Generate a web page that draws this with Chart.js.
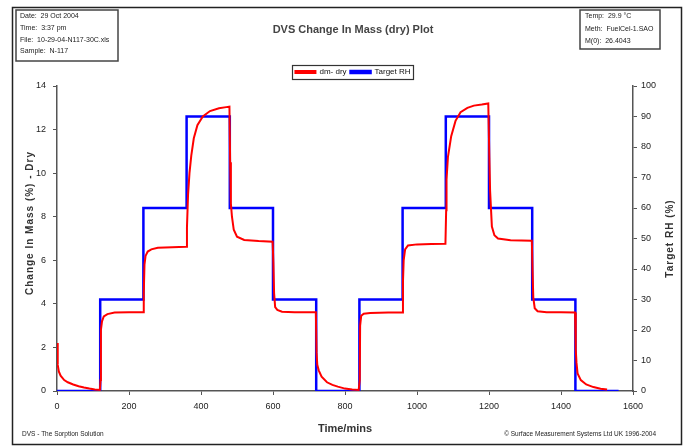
<!DOCTYPE html>
<html>
<head>
<meta charset="utf-8">
<script src="https://cdn.jsdelivr.net/npm/chart.js@4.4.1/dist/chart.umd.min.js"></script>
<style>
  html, body { margin: 0; padding: 0; background: #fff; }
  #wrap { width: 686px; height: 447px; }
</style>
</head>
<body>
<div id="wrap"><canvas id="chart"></canvas></div>
<script>
// Target RH steps (value holds until the next time)
const rhTimes = [0, 120, 240, 360, 480, 600, 720, 840, 960, 1080, 1200, 1320, 1440, 1560];
const rhValues = [0, 30, 60, 90, 60, 30, 0, 30, 60, 90, 60, 30, 0, 0];

// dm - dry
const dmTimes = [
  0, 2, 5, 10, 20, 30, 45, 60, 75, 90, 105, 119,
  121, 122, 125, 130, 140, 160, 200, 239,
  241, 243, 246, 252, 262, 280, 320, 359,
  361, 364, 368, 373, 380, 390, 405, 425, 450, 470, 479,
  481, 483, 486, 491, 500, 520, 560, 599,
  601, 603, 606, 612, 625, 660, 719,
  721, 723, 727, 735, 750, 765, 780, 800, 820, 838,
  841, 842, 845, 852, 870, 920, 959,
  961, 963, 967, 975, 1000, 1040, 1079,
  1081, 1082, 1086, 1095, 1107, 1121, 1140, 1158, 1180, 1198,
  1201, 1203, 1208, 1215, 1225, 1260, 1319,
  1321, 1323, 1327, 1335, 1360, 1400, 1439,
  1441, 1443, 1446, 1455, 1470, 1490, 1510, 1528
];
const dmValues = [
  2.2, 1.2, 0.9, 0.7, 0.5, 0.4, 0.3, 0.22, 0.16, 0.11, 0.07, 0.05,
  0.5, 2.8, 3.2, 3.42, 3.53, 3.6, 3.61, 3.62,
  4.5, 5.8, 6.2, 6.4, 6.5, 6.57, 6.6, 6.62,
  7.5, 9.0, 10.0, 10.8, 11.6, 12.2, 12.6, 12.85, 12.98, 13.03, 13.05,
  10.5, 8.6, 8.0, 7.4, 7.08, 6.93, 6.88, 6.85,
  5.9, 4.5, 3.85, 3.72, 3.64, 3.62, 3.61,
  1.75, 1.2, 0.95, 0.66, 0.4, 0.28, 0.2, 0.11, 0.07, 0.05,
  0.5, 3.0, 3.45, 3.55, 3.58, 3.6, 3.6,
  5.0, 6.0, 6.5, 6.68, 6.73, 6.75, 6.76,
  8.3, 9.7, 10.75, 11.7, 12.4, 12.8, 13.0, 13.1, 13.15, 13.2,
  10.7, 9.2, 7.55, 7.15, 7.0, 6.92, 6.9,
  5.5, 4.3, 3.8, 3.66, 3.62, 3.62, 3.6,
  1.9, 1.3, 0.81, 0.5, 0.3, 0.18, 0.1, 0.07
];

const massTicks = [0, 2, 4, 6, 8, 10, 12, 14];
const rhTicks = [0, 10, 20, 30, 40, 50, 60, 70, 80, 90, 100];

const infoLeft = ['Date:  29 Oct 2004', 'Time:  3:37 pm', 'File:  10-29-04-N117-30C.xls', 'Sample:  N-117'];
const infoRight = ['Temp:  29.9 °C', 'Meth:  FuelCel-1.SAO', 'M(0):  26.4043'];

const FONT = "'Liberation Sans', Arial, sans-serif";
const AXIS = '#555';

// frame, info boxes, rotated axis titles and footer notes
const decor = {
  id: 'decor',
  afterDraw(chart) {
    const ctx = chart.ctx;
    const area = chart.chartArea;
    ctx.save();

    ctx.strokeStyle = '#222';
    ctx.lineWidth = 1.5;
    ctx.strokeRect(12.5, 7.5, 669, 437);

    // legend frame
    const boxes = chart.legend.legendHitBoxes;
    if (boxes.length) {
      const l = Math.min(...boxes.map(b => b.left)) - 3;
      const r = Math.max(...boxes.map(b => b.left + b.width)) + 3;
      const t = boxes[0].top - 3;
      const h = boxes[0].height + 6;
      ctx.lineWidth = 1.2;
      ctx.strokeStyle = '#333';
      ctx.strokeRect(Math.round(l) + 0.5, Math.round(t) + 0.5, Math.round(r - l), Math.round(h));
    }

    ctx.fillStyle = '#222';
    ctx.font = '7px ' + FONT;
    ctx.textBaseline = 'middle';
    ctx.textAlign = 'left';

    ctx.lineWidth = 1.5;
    ctx.strokeStyle = '#444';
    ctx.strokeRect(16, 10, 102, 51);
    [16, 28, 40, 51].forEach((y, i) => ctx.fillText(infoLeft[i], 20, y));

    ctx.strokeRect(580, 10, 80, 39);
    [16, 29, 41].forEach((y, i) => ctx.fillText(infoRight[i], 585, y));

    ctx.font = '6.5px ' + FONT;
    ctx.fillText('DVS - The Sorption Solution', 22, 434);
    ctx.textAlign = 'right';
    ctx.fillText('© Surface Measurement Systems Ltd UK 1996-2004', 656, 434);

    ctx.fillStyle = '#333';
    ctx.font = 'bold 10px ' + FONT;
    ctx.textAlign = 'center';
    ctx.save();
    ctx.translate(30, 223);
    ctx.rotate(-Math.PI / 2);
    ctx.letterSpacing = '1px';
    ctx.fillText('Change In Mass (%) - Dry', 0, 0);
    ctx.restore();

    ctx.save();
    ctx.translate(670, (area.top + area.bottom) / 2);
    ctx.rotate(-Math.PI / 2);
    ctx.letterSpacing = '1px';
    ctx.fillText('Target RH (%)', 0, 0);
    ctx.restore();

    ctx.restore();
  }
};

new Chart(document.getElementById('chart'), {
  type: 'line',
  data: {
    datasets: [
      {
        label: 'dm- dry',
        data: dmTimes.map((t, i) => ({ x: t, y: dmValues[i] })),
        yAxisID: 'y',
        borderColor: '#ff0000',
        backgroundColor: '#ff0000',
        borderWidth: 2,
        pointRadius: 0,
        tension: 0
      },
      {
        label: 'Target RH',
        data: rhTimes.map((t, i) => ({ x: t, y: rhValues[i] })),
        yAxisID: 'y1',
        stepped: 'before',
        borderColor: '#0000ff',
        backgroundColor: '#0000ff',
        borderWidth: 2.5,
        pointRadius: 0
      }
    ]
  },
  plugins: [decor],
  options: {
    responsive: true,
    maintainAspectRatio: false,
    animation: false,
    layout: { padding: { top: 10, left: 20, right: 0, bottom: 7 } },
    plugins: {
      title: {
        display: true,
        text: 'DVS Change In Mass (dry) Plot',
        color: '#444',
        font: { family: FONT, size: 11, weight: 'bold' },
        padding: { top: 13.4, bottom: 27.4 }
      },
      legend: {
        display: true,
        labels: {
          color: '#111',
          font: { family: FONT, size: 8 },
          boxWidth: 20,
          boxHeight: 2,
          padding: 4
        }
      },
      tooltip: { enabled: false }
    },
    scales: {
      x: {
        type: 'linear',
        min: 0,
        max: 1600,
        afterFit: (s) => { s.height = 49; },
        ticks: {
          stepSize: 200,
          color: '#222',
          padding: 6,
          maxRotation: 0,
          font: { family: FONT, size: 9 },
          callback: (v) => String(v)
        },
        grid: { drawOnChartArea: false, tickLength: 4, color: AXIS, lineWidth: 1 },
        border: { color: AXIS, width: 1.5 },
        title: {
          display: true,
          text: 'Time/mins',
          color: '#333',
          font: { family: FONT, size: 11, weight: 'bold' },
          padding: { top: 4, bottom: 4 }
        }
      },
      y: {
        position: 'left',
        min: 0,
        max: 14,
        afterFit: (s) => { s.width = 37; },
        afterBuildTicks: (s) => { s.ticks = massTicks.map(v => ({ value: v })); },
        ticks: { color: '#222', padding: 7, font: { family: FONT, size: 9 } },
        grid: { drawOnChartArea: false, tickLength: 4, color: AXIS },
        border: { color: AXIS, width: 1.5 }
      },
      y1: {
        position: 'right',
        min: 0,
        max: 100,
        afterFit: (s) => { s.width = 53; },
        afterBuildTicks: (s) => { s.ticks = rhTicks.map(v => ({ value: v })); },
        ticks: { color: '#222', padding: 4, font: { family: FONT, size: 9 } },
        grid: { drawOnChartArea: false, tickLength: 4, color: AXIS },
        border: { color: AXIS, width: 1.5 }
      }
    }
  }
});
</script>
</body>
</html>
